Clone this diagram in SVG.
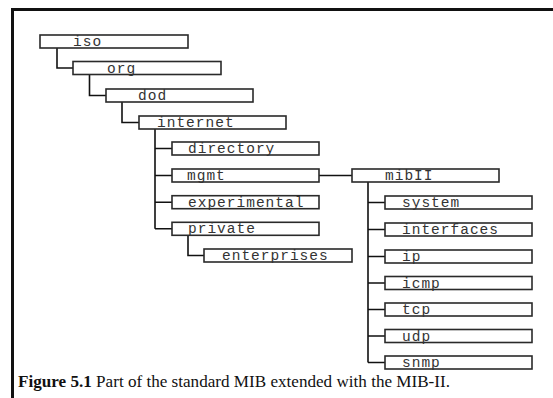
<svg xmlns="http://www.w3.org/2000/svg" width="553" height="398" viewBox="0 0 553 398">
<style>
.box{fill:#fff;stroke:#2a2a2a;stroke-width:1.6}
.lbl{font-family:"Liberation Mono","Courier New",monospace;font-size:14.5px;letter-spacing:1px;fill:#333}
.con{fill:none;stroke:#111;stroke-width:1.6}
.cap{font-family:"Liberation Serif","Times New Roman",serif;font-size:17px;fill:#111}
</style>
<rect width="553" height="398" fill="#fff"/>
<path d="M12.5,398 V9.5 H553" fill="none" stroke="#111" stroke-width="3"/>
<g id="connectors" class="con">
<path d="M57,48 V68 H73"/>
<path d="M89.5,74.5 V95.5 H106"/>
<path d="M122,102 V122.5 H139"/>
<path d="M155,129 V228.8 M155,148.5 H172 M155,175.5 H172 M155,202.2 H172 M155,228.8 H172"/>
<path d="M188,235.3 V255.5 H204"/>
<path d="M319,175.5 H352"/>
<path d="M368,182 V362.5 M368,202.5 H385 M368,229.5 H385 M368,256.5 H385 M368,283 H385 M368,309.5 H385 M368,336 H385 M368,362.5 H385"/>
</g>
<g id="iso"><rect class="box" x="40" y="35" width="148" height="13"/><text class="lbl" x="73" y="46">iso</text></g>
<g id="org"><rect class="box" x="73" y="61.5" width="148" height="13"/><text class="lbl" x="107" y="72.5">org</text></g>
<g id="dod"><rect class="box" x="106" y="89" width="147" height="13"/><text class="lbl" x="138" y="100">dod</text></g>
<g id="internet"><rect class="box" x="139" y="116" width="147" height="13"/><text class="lbl" x="157" y="127">internet</text></g>
<g id="directory"><rect class="box" x="172" y="142" width="147" height="13"/><text class="lbl" x="188" y="153">directory</text></g>
<g id="mgmt"><rect class="box" x="172" y="169" width="147" height="13"/><text class="lbl" x="187" y="180">mgmt</text></g>
<g id="experimental"><rect class="box" x="172" y="195.7" width="147" height="13"/><text class="lbl" x="188" y="206.7">experimental</text></g>
<g id="private"><rect class="box" x="172" y="222.3" width="147" height="13"/><text class="lbl" x="188" y="233.3">private</text></g>
<g id="enterprises"><rect class="box" x="204" y="249" width="148" height="13"/><text class="lbl" x="222" y="260">enterprises</text></g>
<g id="mibII"><rect class="box" x="352" y="169" width="147" height="13"/><text class="lbl" x="385" y="180">mibII</text></g>
<g id="system"><rect class="box" x="385" y="196" width="147" height="13"/><text class="lbl" x="402" y="207">system</text></g>
<g id="interfaces"><rect class="box" x="385" y="223" width="147" height="13"/><text class="lbl" x="402" y="234">interfaces</text></g>
<g id="ip"><rect class="box" x="385" y="250" width="147" height="13"/><text class="lbl" x="402" y="261">ip</text></g>
<g id="icmp"><rect class="box" x="385" y="276.5" width="147" height="13"/><text class="lbl" x="402" y="287.5">icmp</text></g>
<g id="tcp"><rect class="box" x="385" y="303" width="147" height="13"/><text class="lbl" x="402" y="314">tcp</text></g>
<g id="udp"><rect class="box" x="385" y="329.5" width="147" height="13"/><text class="lbl" x="402" y="340.5">udp</text></g>
<g id="snmp"><rect class="box" x="385" y="356" width="147" height="13"/><text class="lbl" x="402" y="367">snmp</text></g>
<text class="cap" x="18" y="387" textLength="432" lengthAdjust="spacingAndGlyphs"><tspan font-weight="bold">Figure 5.1</tspan> Part of the standard MIB extended with the MIB-II.</text>
</svg>
